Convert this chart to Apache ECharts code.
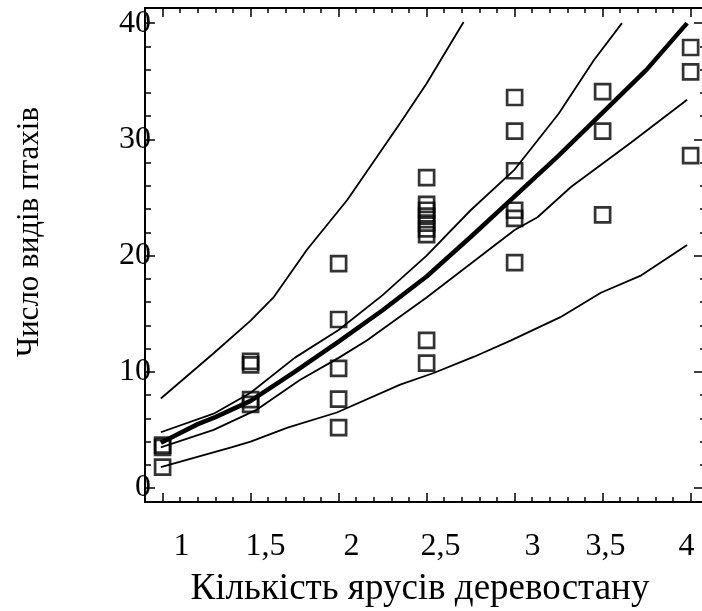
<!DOCTYPE html>
<html>
<head>
<meta charset="utf-8">
<script src="https://cdn.jsdelivr.net/npm/echarts@6/dist/echarts.min.js"></script>
<style>
  html, body { margin: 0; padding: 0; background: #fff; }
  #chart { width: 702px; height: 611px; }
</style>
</head>
<body>
<div id="chart"></div>
<script>
// tick labels
var xTicks = [1, 1.5, 2, 2.5, 3, 3.5, 4];
var xTickLabels = ['1', '1,5', '2', '2,5', '3', '3,5', '4'];
var yTicks = [0, 10, 20, 30, 40];

// observed points (x = ярусів, y = видів)
var pointsX = [1, 1, 1,
    1.5, 1.5, 1.5, 1.5,
    2, 2, 2, 2, 2,
    2.5, 2.5, 2.5, 2.5, 2.5, 2.5, 2.5, 2.5, 2.5,
    3, 3, 3, 3, 3, 3,
    3.5, 3.5, 3.5,
    4, 4, 4];
var pointsY = [3.5, 3.7, 1.8,
    10.6, 10.9, 7.6, 7.2,
    19.3, 14.5, 10.3, 7.65, 5.2,
    26.7, 24.4, 23.9, 23.4, 22.8, 22.3, 21.8, 12.7, 10.75,
    33.6, 30.7, 27.3, 23.9, 23.2, 19.4,
    34.1, 30.7, 23.5,
    37.9, 35.8, 28.6];

// fitted curve
var fitX = [0.99, 1.2, 1.3, 1.5, 1.75, 2, 2.25, 2.5, 2.75, 3, 3.25, 3.5, 3.75, 3.98];
var fitY = [3.9, 5.5, 6.1, 7.5, 10.0, 12.6, 15.3, 18.2, 21.6, 25.1, 28.6, 32.3, 36.0, 40.0];

// confidence limits
var confUpX = [0.99, 1.29, 1.5, 1.75, 2, 2.25, 2.5, 2.75, 3, 3.25, 3.45, 3.61];
var confUpY = [4.8, 6.4, 8.2, 11.2, 13.6, 16.6, 20.0, 23.9, 27.4, 32.2, 36.8, 40.0];
var confLowX = [0.99, 1.29, 1.53, 1.78, 2, 2.16, 2.5, 2.75, 3, 3.13, 3.32, 3.66, 3.98];
var confLowY = [3.5, 5.0, 6.7, 9.3, 11.2, 12.7, 16.4, 19.3, 22.2, 23.3, 25.9, 29.7, 33.4];

// prediction limits
var predUpX = [0.99, 1.29, 1.5, 1.63, 1.82, 2.05, 2.35, 2.5, 2.71];
var predUpY = [7.7, 11.6, 14.4, 16.4, 20.5, 24.8, 31.4, 34.8, 40.1];
var predLowX = [0.99, 1.39, 1.5, 1.71, 1.99, 2.35, 2.54, 2.77, 2.98, 3.26, 3.49, 3.72, 3.98];
var predLowY = [1.8, 3.5, 4.0, 5.2, 6.5, 8.9, 9.9, 11.3, 12.7, 14.7, 16.8, 18.3, 20.9];

function pairs(xs, ys) {
    return xs.map(function (x, i) { return [x, ys[i]]; });
}

var xMinor = [];
for (var i = 9; i <= 40; i++) xMinor.push(i / 10);
var yMinor = [];
for (var j = 0; j <= 40; j += 2) yMinor.push(j);

var font = 'Liberation Serif';

// label nudges (px) as in the original figure
var xLabelShift = [19, 15, 13, 14, 18, 3, -4];
var rich = {};
xLabelShift.forEach(function (s, i) {
    rich['o' + i] = {
        fontFamily: font, fontSize: 32, color: '#000',
        padding: s >= 0 ? [0, 0, 0, 2 * s] : [0, -2 * s, 0, 0]
    };
});

var X_MIN = 0.9, X_MAX = 4.076, Y_MIN = -1.2, Y_MAX = 41.3;

function xAxisOf(pos, values, len, labels) {
    return {
        type: 'value', position: pos, min: X_MIN, max: X_MAX,
        splitLine: { show: false },
        axisLine: { show: true, onZero: false, lineStyle: { color: '#000', width: 2 } },
        axisTick: { show: true, inside: true, length: len, customValues: values,
            lineStyle: { color: '#000', width: 1.5 } },
        axisLabel: labels ? {
            show: true, customValues: xTicks, margin: 29,
            formatter: function (v) {
                var k = xTicks.indexOf(v);
                return '{o' + k + '|' + xTickLabels[k] + '}';
            },
            rich: rich
        } : { show: false }
    };
}

function yAxisOf(pos, values, len, labels) {
    return {
        type: 'value', position: pos, min: Y_MIN, max: Y_MAX,
        splitLine: { show: false },
        axisLine: { show: true, onZero: false, lineStyle: { color: '#000', width: 2 } },
        axisTick: { show: true, inside: true, length: len, customValues: values,
            lineStyle: { color: '#000', width: 1.5 } },
        axisLabel: labels ? {
            show: true, customValues: yTicks, margin: -6,
            fontFamily: font, fontSize: 32, color: '#000'
        } : { show: false }
    };
}

var chart = echarts.init(document.getElementById('chart'));

function lineSeries(data, width) {
    return {
        type: 'line', data: data, symbol: 'none', smooth: false,
        lineStyle: { color: '#000', width: width }, z: 2
    };
}

var option = {
    animation: false,
    backgroundColor: '#fff',
    grid: { left: 145, right: -2, top: 8, bottom: 109, outerBoundsMode: 'none' },
    xAxis: [
        xAxisOf('bottom', xTicks, 9, true),
        xAxisOf('bottom', xMinor, 5, false),
        xAxisOf('top', xTicks, 9, false),
        xAxisOf('top', xMinor, 5, false)
    ],
    yAxis: [
        yAxisOf('left', yTicks, 10, true),
        yAxisOf('left', yMinor, 6, false),
        yAxisOf('right', yTicks, 10, false),
        yAxisOf('right', yMinor, 4, false)
    ],
    graphic: [{
        type: 'text', x: 30, y: 232, rotation: Math.PI / 2,
        style: {
            text: 'Число видів птахів', fontFamily: font, fontSize: 31,
            fill: '#000', align: 'center', verticalAlign: 'middle'
        }
    }, {
        type: 'text', x: 420, y: 589,
        style: {
            text: 'Кількість ярусів деревостану', fontFamily: font, fontSize: 37,
            fill: '#000', align: 'center', verticalAlign: 'middle'
        }
    }],
    series: [
        lineSeries(pairs(predUpX, predUpY), 1.8),
        lineSeries(pairs(predLowX, predLowY), 1.8),
        lineSeries(pairs(confUpX, confUpY), 1.8),
        lineSeries(pairs(confLowX, confLowY), 1.8),
        lineSeries(pairs(fitX, fitY), 4.5),
        {
            type: 'scatter', data: pairs(pointsX, pointsY),
            symbol: 'rect', symbolSize: 15,
            itemStyle: { color: 'rgba(0,0,0,0)', borderColor: '#000', borderWidth: 2.7 },
            z: 3
        }
    ]
};
chart.setOption(option);
</script>
</body>
</html>
